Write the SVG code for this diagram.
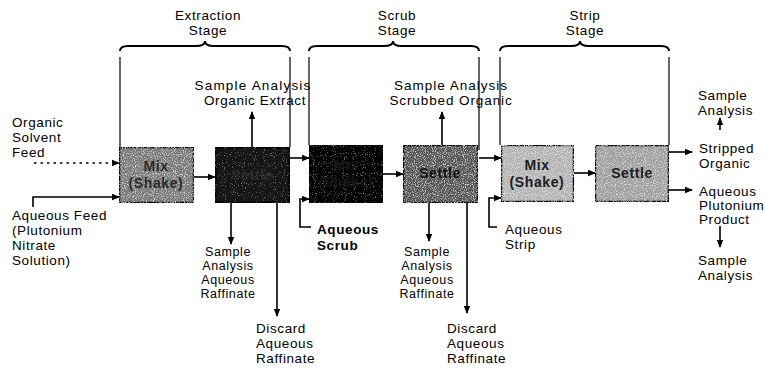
<svg xmlns="http://www.w3.org/2000/svg" width="765" height="369" viewBox="0 0 765 369">
<style>
text{font-family:"Liberation Sans",Arial,sans-serif;font-size:13.5px;fill:#000;letter-spacing:0.6px}
.c{text-anchor:middle}
.s{font-size:12.5px}
.b{font-weight:bold}
.box{stroke:#000;stroke-width:2.5}
.bl{font-weight:bold;text-anchor:middle;font-size:14px}
.ln{fill:none;stroke:#000;stroke-width:1.6}
.br{fill:none;stroke:#000;stroke-width:2}
.gd{fill:none;stroke:#000;stroke-width:1.2}
</style>
<defs>
<marker id="ah" markerWidth="8" markerHeight="8" refX="7" refY="4" orient="auto" markerUnits="userSpaceOnUse">
<path d="M0,0.8 L8,4 L0,7.2 Z" fill="#000"/>
</marker>
<filter id="nz" x="0" y="0" width="100%" height="100%">
<feTurbulence type="fractalNoise" baseFrequency="0.9" numOctaves="1" seed="3" result="t"/>
<feColorMatrix in="t" type="matrix" values="0 0 0 0 1  0 0 0 0 1  0 0 0 0 1  0 0 0 2.4 -1.2" result="n"/>
<feComposite in="n" in2="SourceGraphic" operator="in" result="m"/>
<feMerge><feMergeNode in="SourceGraphic"/><feMergeNode in="m"/></feMerge>
</filter>
<filter id="nzd" x="0" y="0" width="100%" height="100%">
<feTurbulence type="fractalNoise" baseFrequency="0.9" numOctaves="1" seed="7" result="t"/>
<feColorMatrix in="t" type="matrix" values="0 0 0 0 1  0 0 0 0 1  0 0 0 0 1  0 0 0 1.2 -0.75" result="n"/>
<feComposite in="n" in2="SourceGraphic" operator="in" result="m"/>
<feMerge><feMergeNode in="SourceGraphic"/><feMergeNode in="m"/></feMerge>
</filter>
</defs>

<g id="stages">
<path class="br" d="M120,51 Q120,46 128,46 L196,46 Q205,46 205,41 Q205,46 214,46 L282,46 Q290,46 290,51"/>
<text class="c" x="208" y="20">Extraction</text>
<text class="c" x="208" y="35">Stage</text>
<path class="br" d="M309,51 Q309,46 317,46 L384,46 Q393,46 393,41 Q393,46 402,46 L471,46 Q479,46 479,51"/>
<text class="c" x="397" y="20">Scrub</text>
<text class="c" x="397" y="35">Stage</text>
<path class="br" d="M500,51 Q500,46 508,46 L571,46 Q580,46 580,41 Q580,46 589,46 L661,46 Q669,46 669,51"/>
<text class="c" x="585" y="20">Strip</text>
<text class="c" x="585" y="35">Stage</text>
<g class="gd">
<line x1="120" y1="57" x2="120" y2="147"/>
<line x1="290" y1="57" x2="290" y2="147"/>
<line x1="309" y1="57" x2="309" y2="145"/>
<line x1="479" y1="57" x2="479" y2="150"/>
<line x1="500" y1="57" x2="500" y2="145"/>
<line x1="669" y1="57" x2="669" y2="145"/>
</g>
</g>

<g id="connectors">
<line class="ln" x1="34" y1="163" x2="119" y2="163" stroke-dasharray="2.5,4" marker-end="url(#ah)"/>
<path class="ln" d="M33,207 L33,197 L119,197" marker-end="url(#ah)"/>
<line class="ln" x1="194" y1="177" x2="215" y2="177" marker-end="url(#ah)"/>
<line class="ln" x1="252" y1="147" x2="252" y2="112" marker-end="url(#ah)"/>
<line class="ln" x1="231" y1="203" x2="231" y2="244" marker-end="url(#ah)"/>
<line class="ln" x1="277" y1="203" x2="277" y2="316" marker-end="url(#ah)"/>
<line class="ln" x1="290" y1="158" x2="309" y2="158" marker-end="url(#ah)"/>
<path class="ln" d="M311,227 L300,227 L300,199 L309,199" marker-end="url(#ah)"/>
<line class="ln" x1="383" y1="174" x2="403" y2="174" marker-end="url(#ah)"/>
<line class="ln" x1="442" y1="145" x2="442" y2="112" marker-end="url(#ah)"/>
<line class="ln" x1="429" y1="203" x2="429" y2="241" marker-end="url(#ah)"/>
<line class="ln" x1="467" y1="203" x2="467" y2="313" marker-end="url(#ah)"/>
<line class="ln" x1="479" y1="158" x2="501" y2="158" marker-end="url(#ah)"/>
<path class="ln" d="M497,227 L489,227 L489,198 L501,198" marker-end="url(#ah)"/>
<line class="ln" x1="574" y1="173" x2="595" y2="173" marker-end="url(#ah)"/>
<line class="ln" x1="669" y1="152" x2="692" y2="152" marker-end="url(#ah)"/>
<line class="ln" x1="669" y1="190" x2="692" y2="190" marker-end="url(#ah)"/>
<line class="ln" x1="720" y1="130" x2="720" y2="118" marker-end="url(#ah)"/>
<line class="ln" x1="720" y1="226" x2="720" y2="247" marker-end="url(#ah)"/>
</g>

<g id="mix1">
<rect class="box" x="119" y="147" width="75" height="56" fill="#7a7a7a" filter="url(#nz)"/>
<text class="bl" x="156" y="171" style="fill:#2a2a2a">Mix</text>
<text class="bl" x="156" y="188" style="fill:#2a2a2a">(Shake)</text>
</g>
<g id="settle1">
<rect class="box" x="215" y="147" width="75" height="56" fill="#161616" filter="url(#nzd)"/>
<text class="bl" x="252" y="180" style="fill:#2c2c2c">Settle</text>
</g>
<g id="mix2">
<rect class="box" x="309" y="145" width="74" height="58" fill="#060606" filter="url(#nzd)"/>
<text class="bl" x="346" y="170" style="fill:#181818">Mix</text>
<text class="bl" x="346" y="187" style="fill:#181818">(Shake)</text>
</g>
<g id="settle2">
<rect class="box" x="403" y="145" width="75" height="58" fill="#555" filter="url(#nz)"/>
<text class="bl" x="440" y="178" style="fill:#111">Settle</text>
</g>
<g id="mix3">
<rect class="box" x="501" y="145" width="73" height="57" fill="#b4b4b4" filter="url(#nz)"/>
<text class="bl" x="537" y="170" style="fill:#1e1e1e">Mix</text>
<text class="bl" x="537" y="187" style="fill:#1e1e1e">(Shake)</text>
</g>
<g id="settle3">
<rect class="box" x="595" y="145" width="74" height="57" fill="#a0a0a0" filter="url(#nz)"/>
<text class="bl" x="632" y="178" style="fill:#1e1e1e">Settle</text>
</g>

<g id="organic-feed">
<text x="12" y="127">Organic</text>
<text x="12" y="142">Solvent</text>
<text x="12" y="157">Feed</text>
</g>
<g id="aqueous-feed">
<text x="12" y="220">Aqueous Feed</text>
<text x="12" y="235">(Plutonium</text>
<text x="12" y="250">Nitrate</text>
<text x="12" y="265">Solution)</text>
</g>
<g id="sample-organic-extract">
<text class="c" x="253" y="90" style="letter-spacing:1.2px">Sample Analysis</text>
<text class="c" x="255" y="105">Organic Extract</text>
</g>
<g id="sample-aq-raff-1">
<text class="c s" x="228" y="256">Sample</text>
<text class="c s" x="228" y="270">Analysis</text>
<text class="c s" x="228" y="284">Aqueous</text>
<text class="c s" x="228" y="298">Raffinate</text>
</g>
<g id="discard-1">
<text x="256" y="333">Discard</text>
<text x="256" y="348">Aqueous</text>
<text x="256" y="363">Raffinate</text>
</g>
<g id="aqueous-scrub">
<text class="b" x="317" y="234">Aqueous</text>
<text class="b" x="317" y="250">Scrub</text>
</g>
<g id="sample-scrubbed">
<text class="c" x="451" y="90" style="letter-spacing:1px">Sample Analysis</text>
<text class="c" x="451" y="105" style="letter-spacing:0.9px">Scrubbed Organic</text>
</g>
<g id="sample-aq-raff-2">
<text class="c s" x="427" y="256">Sample</text>
<text class="c s" x="427" y="270">Analysis</text>
<text class="c s" x="427" y="284">Aqueous</text>
<text class="c s" x="427" y="298">Raffinate</text>
</g>
<g id="discard-2">
<text x="447" y="333">Discard</text>
<text x="447" y="348">Aqueous</text>
<text x="447" y="363">Raffinate</text>
</g>
<g id="aqueous-strip">
<text x="505" y="234">Aqueous</text>
<text x="505" y="249">Strip</text>
</g>
<g id="sample-top">
<text x="698" y="100">Sample</text>
<text x="698" y="115">Analysis</text>
</g>
<g id="stripped-organic">
<text x="699" y="153">Stripped</text>
<text x="699" y="168">Organic</text>
</g>
<g id="aqueous-product">
<text x="699" y="196">Aqueous</text>
<text x="699" y="210">Plutonium</text>
<text x="699" y="224">Product</text>
</g>
<g id="sample-bottom">
<text x="698" y="265">Sample</text>
<text x="698" y="280">Analysis</text>
</g>
</svg>
